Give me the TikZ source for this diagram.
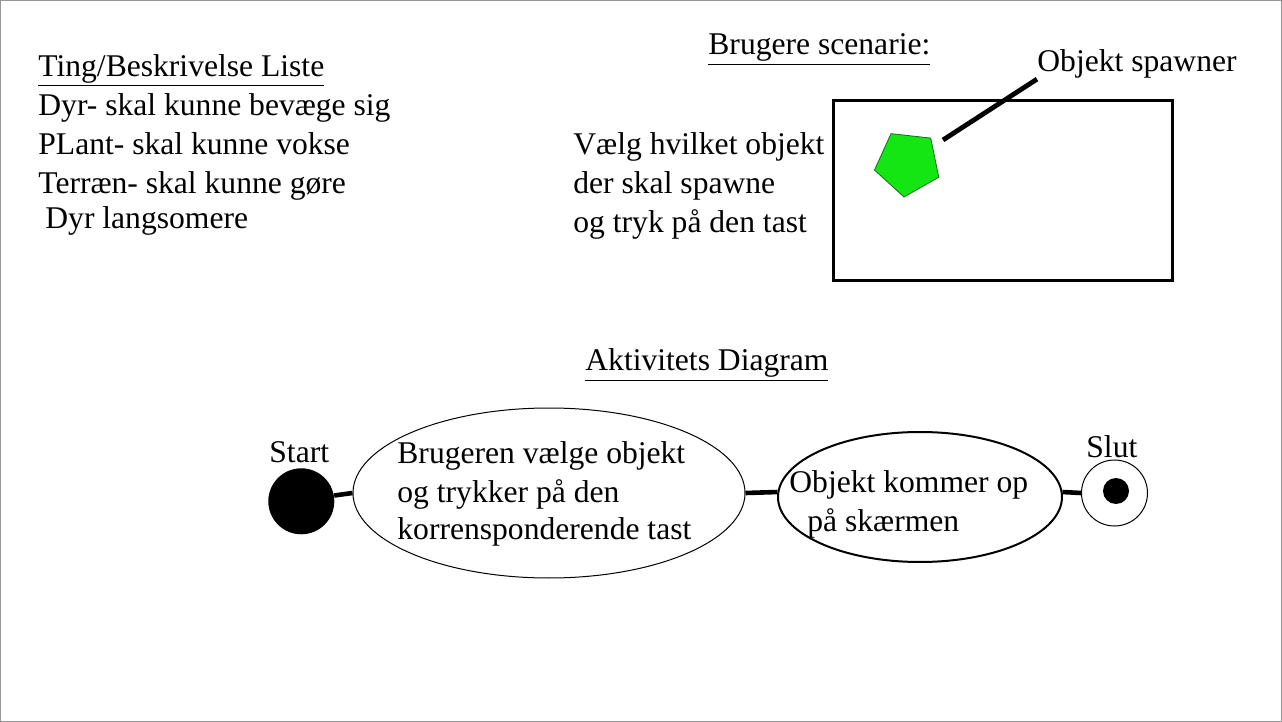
\documentclass[tikz,border=0pt]{standalone}
\usepackage{fontspec}
\setmainfont{Liberation Serif}
\usetikzlibrary{positioning,shapes.geometric}
\definecolor{framegray}{RGB}{150,150,150}
\definecolor{spawngreen}{RGB}{20,230,20}
\definecolor{darkgreen}{RGB}{20,110,20}
\tikzstyle{txt}=[%
      anchor=base west, inner sep=0pt, align=left,
      font=\fontsize{15.8}{19.5}\selectfont
]
\tikzstyle{act}=[%
      ellipse, draw=black, inner sep=0pt
]
\tikzstyle{link}=[%
      -, line width=2.3pt
]
\tikzstyle{dot}=[%
      circle, fill=black, inner sep=0pt
]
\tikzstyle{spawnobj}=[%
      regular polygon, regular polygon sides=5, shape border rotate=173.6,
      fill=spawngreen, draw=darkgreen, line width=0.4pt, minimum size=34pt, inner sep=0pt
]

\begin{document}
\begin{tikzpicture}[x=0.5pt, y=-0.5pt]
    \useasboundingbox (0,0) rectangle (1282,722);
    \draw[framegray, line width=0.5pt] (0.5,0.5) rectangle (1281.5,721.5);

    % liste (base = last line)
    \node[txt] (liste) at (38,229) {\underline{Ting/Beskrivelse Liste}\\Dyr- skal kunne bevæge sig\\PLant- skal kunne vokse\\Terræn- skal kunne gøre\\[-1.6pt]\hspace*{3.5pt}Dyr langsomere};

    % brugere scenarie
    \node[txt] (scenhead) at (708,55) {\underline{Brugere scenarie:}};
    \node[txt] (scentxt) at (573,233) {Vælg hvilket objekt\\der skal spawne\\og tryk på den tast};
    \draw[line width=1.5pt] (833,101) rectangle (1172,281);
    \node[spawnobj] (obj) at (907.8,163.2) {};
    \node[txt] (spawnlbl) at (1037,72) {Objekt spawner};
    \coordinate (leadstart) at (943,140);
    \draw[line width=2.4pt] (leadstart) -- (spawnlbl.south west);

    % aktivitets diagram
    \node[txt] (akthead) at (585,371) {\underline{Aktivitets Diagram}};
    \node[dot, minimum size=33pt] (start) at (301.3,501.3) {};
    \node[txt] (startlbl) at (269,462) {Start};
    \node[act, line width=0.5pt, minimum width=196pt, minimum height=85pt] (choose) at (549,493) {};
    \node[txt] (choosetxt) at (397,539) {Brugeren vælge objekt\\og trykker på den\\[-1pt]korrensponderende tast};
    \node[act, line width=1pt, minimum width=142pt, minimum height=65pt] (show) at (920,497) {};
    \node[txt] (showtxt) at (789,531) {Objekt kommer op\\\hspace*{9pt}på skærmen};
    \node[circle, draw, line width=0.5pt, minimum size=33pt, inner sep=0pt] (finish) at (1114.5,493) {};
    \node[dot, minimum size=13pt] (finishdot) at (1116,491) {};
    \node[txt] (slutlbl) at (1086,458) {Slut};

    \draw[link] (start.10) -- (choose.west)
                (choose.east) -- (show.178)
                (show.2) -- (finish.west);

\end{tikzpicture}
\end{document}
